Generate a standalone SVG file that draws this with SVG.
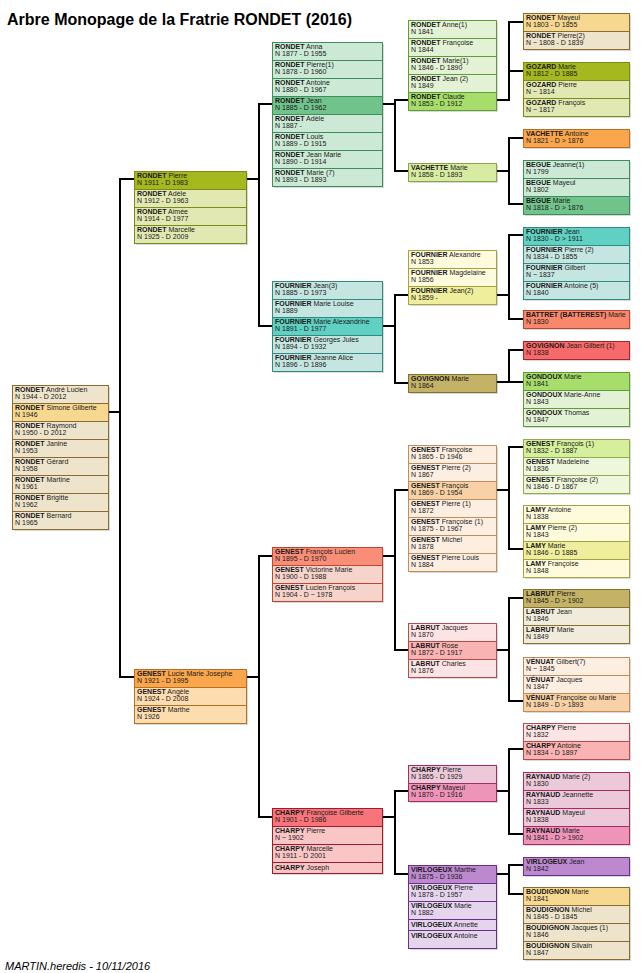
<svg xmlns="http://www.w3.org/2000/svg" width="644" height="973" viewBox="0 0 644 973">
<style>
text{font-family:"Liberation Sans",Arial,sans-serif;font-size:7px;fill:#1a1a1a}
.b{font-weight:bold}
.title{font-size:16px;font-weight:bold;fill:#000}
.foot{font-size:11px;font-style:italic;fill:#000}
.n rect{stroke-width:1}
.n rect.sh{fill:#000;stroke:none;opacity:.15}
#connectors path{fill:none;stroke:#000;stroke-width:2}
.sA rect{fill:#eee4cb;stroke:#8a6c32}.sA rect.h{fill:#f7d890}
.sB rect{fill:#e1e8b2;stroke:#7b8a18}.sB rect.h{fill:#a5b81d}
.sC rect{fill:#cbe9d5;stroke:#3f8d5c}.sC rect.h{fill:#71c38c}
.sD rect{fill:#e3f1d5;stroke:#5e9c36}.sD rect.h{fill:#a7dd6b}
.sE rect{fill:#d8eba2;stroke:#8ca544}
.sF rect{fill:#fddcb0;stroke:#b7701f}.sF rect.h{fill:#f9a64d}
.sG rect{fill:#c5e5e1;stroke:#2f8b82}.sG rect.h{fill:#5fd0c1}
.sH rect{fill:#f9876b;stroke:#b5482e}
.sI rect{fill:#f76a6b;stroke:#a52528}
.sJ rect{fill:#fdfbdc;stroke:#a5a23f}.sJ rect.h{fill:#eeee9c}
.sK rect{fill:#f0ebdb;stroke:#84722c}.sK rect.h{fill:#c4b267}
.sL rect{fill:#fdeee2;stroke:#c58b59}.sL rect.h{fill:#f8d2a6}
.sM rect{fill:#f6d4cb;stroke:#c2452d}.sM rect.h{fill:#f98e78}
.sN rect{fill:#eef7dc;stroke:#8fad4b}.sN rect.h{fill:#d5ef9c}
.sO rect{fill:#fde4e4;stroke:#b84a4b}.sO rect.h{fill:#f9b3b3}
.sP rect{fill:#ecc9d8;stroke:#a52b66}.sP rect.h{fill:#ee94b9}
.sQ rect{fill:#e5d5ec;stroke:#6d2d8d}.sQ rect.h{fill:#bc89ce}
.sR rect{fill:#f9c5c5;stroke:#a3182a}.sR rect.h{fill:#f7757a}
</style>
<rect width="644" height="973" fill="#fff"/>
<text class="title" x="7" y="25">Arbre Monopage de la Fratrie RONDET (2016)</text>

<g id="connectors">
<path d="M109 412H120M134 179H120V677H134"/>
<path d="M247 179H259M272 104H259V326H272"/>
<path d="M247 677H259M272 556H259V817H272"/>
<path d="M383 104H395M408 100H395V171H408"/>
<path d="M383 326H395M408 295H395V383H408"/>
<path d="M383 556H395M408 490H395V650H408"/>
<path d="M383 817H395M408 791H395V874H408"/>
<path d="M497 100H509V22H523M509 71H523"/>
<path d="M497 171H509M523 138H509V204H523"/>
<path d="M497 295H509M523 235H509V319H523"/>
<path d="M497 382H509V350H523M509 382H523"/>
<path d="M497 490H509M523 447H509V549H523"/>
<path d="M497 650H509M523 598H509V701H523"/>
<path d="M497 791H509M523 749H509V834H523"/>
<path d="M497 874H509M523 865H509V894H523"/>
</g>

<g id="g1-rondet" class="n sA">
<rect class="sh" x="14" y="387" width="96" height="144"/>
<rect x="12.5" y="385.5" width="96" height="18"/><text x="15" y="392"><tspan class="b">RONDET</tspan> André Lucien</text><text x="15" y="399">N 1944 - D 2012</text>
<rect class="h" x="12.5" y="403.5" width="96" height="18"/><text x="15" y="410"><tspan class="b">RONDET</tspan> Simone Gilberte</text><text x="15" y="417">N 1946</text>
<rect x="12.5" y="421.5" width="96" height="18"/><text x="15" y="428"><tspan class="b">RONDET</tspan> Raymond</text><text x="15" y="435">N 1950 - D 2012</text>
<rect x="12.5" y="439.5" width="96" height="18"/><text x="15" y="446"><tspan class="b">RONDET</tspan> Janine</text><text x="15" y="453">N 1953</text>
<rect x="12.5" y="457.5" width="96" height="18"/><text x="15" y="464"><tspan class="b">RONDET</tspan> Gérard</text><text x="15" y="471">N 1958</text>
<rect x="12.5" y="475.5" width="96" height="18"/><text x="15" y="482"><tspan class="b">RONDET</tspan> Martine</text><text x="15" y="489">N 1961</text>
<rect x="12.5" y="493.5" width="96" height="18"/><text x="15" y="500"><tspan class="b">RONDET</tspan> Brigitte</text><text x="15" y="507">N 1962</text>
<rect x="12.5" y="511.5" width="96" height="18"/><text x="15" y="518"><tspan class="b">RONDET</tspan> Bernard</text><text x="15" y="525">N 1965</text>
</g>

<g id="g2-rondet" class="n sB">
<rect class="sh" x="136" y="173" width="112" height="72"/>
<rect class="h" x="134.5" y="171.5" width="112" height="18"/><text x="137" y="178"><tspan class="b">RONDET</tspan> Pierre</text><text x="137" y="185">N 1911 - D 1983</text>
<rect x="134.5" y="189.5" width="112" height="18"/><text x="137" y="196"><tspan class="b">RONDET</tspan> Adèle</text><text x="137" y="203">N 1912 - D 1963</text>
<rect x="134.5" y="207.5" width="112" height="18"/><text x="137" y="214"><tspan class="b">RONDET</tspan> Aimée</text><text x="137" y="221">N 1914 - D 1977</text>
<rect x="134.5" y="225.5" width="112" height="18"/><text x="137" y="232"><tspan class="b">RONDET</tspan> Marcelle</text><text x="137" y="239">N 1925 - D 2009</text>
</g>

<g id="g2-genest" class="n sF">
<rect class="sh" x="136" y="671" width="112" height="54"/>
<rect class="h" x="134.5" y="669.5" width="112" height="18"/><text x="137" y="676"><tspan class="b">GENEST</tspan> Lucie Marie Josephe</text><text x="137" y="683">N 1921 - D 1995</text>
<rect x="134.5" y="687.5" width="112" height="18"/><text x="137" y="694"><tspan class="b">GENEST</tspan> Angèle</text><text x="137" y="701">N 1924 - D 2008</text>
<rect x="134.5" y="705.5" width="112" height="18"/><text x="137" y="712"><tspan class="b">GENEST</tspan> Marthe</text><text x="137" y="719">N 1926</text>
</g>

<g id="g3-rondet" class="n sC">
<rect class="sh" x="274" y="44" width="110" height="144"/>
<rect x="272.5" y="42.5" width="110" height="18"/><text x="275" y="49"><tspan class="b">RONDET</tspan> Anna</text><text x="275" y="56">N 1877 - D 1955</text>
<rect x="272.5" y="60.5" width="110" height="18"/><text x="275" y="67"><tspan class="b">RONDET</tspan> Pierre(1)</text><text x="275" y="74">N 1878 - D 1960</text>
<rect x="272.5" y="78.5" width="110" height="18"/><text x="275" y="85"><tspan class="b">RONDET</tspan> Antoine</text><text x="275" y="92">N 1880 - D 1967</text>
<rect class="h" x="272.5" y="96.5" width="110" height="18"/><text x="275" y="103"><tspan class="b">RONDET</tspan> Jean</text><text x="275" y="110">N 1885 - D 1962</text>
<rect x="272.5" y="114.5" width="110" height="18"/><text x="275" y="121"><tspan class="b">RONDET</tspan> Adèle</text><text x="275" y="128">N 1887 -</text>
<rect x="272.5" y="132.5" width="110" height="18"/><text x="275" y="139"><tspan class="b">RONDET</tspan> Louis</text><text x="275" y="146">N 1889 - D 1915</text>
<rect x="272.5" y="150.5" width="110" height="18"/><text x="275" y="157"><tspan class="b">RONDET</tspan> Jean Marie</text><text x="275" y="164">N 1890 - D 1914</text>
<rect x="272.5" y="168.5" width="110" height="18"/><text x="275" y="175"><tspan class="b">RONDET</tspan> Marie (7)</text><text x="275" y="182">N 1893 - D 1893</text>
</g>

<g id="g3-fournier" class="n sG">
<rect class="sh" x="274" y="283" width="110" height="90"/>
<rect x="272.5" y="281.5" width="110" height="18"/><text x="275" y="288"><tspan class="b">FOURNIER</tspan> Jean(3)</text><text x="275" y="295">N 1885 - D 1973</text>
<rect x="272.5" y="299.5" width="110" height="18"/><text x="275" y="306"><tspan class="b">FOURNIER</tspan> Marie Louise</text><text x="275" y="313">N 1889</text>
<rect class="h" x="272.5" y="317.5" width="110" height="18"/><text x="275" y="324"><tspan class="b">FOURNIER</tspan> Marie Alexandrine</text><text x="275" y="331">N 1891 - D 1977</text>
<rect x="272.5" y="335.5" width="110" height="18"/><text x="275" y="342"><tspan class="b">FOURNIER</tspan> Georges Jules</text><text x="275" y="349">N 1894 - D 1932</text>
<rect x="272.5" y="353.5" width="110" height="18"/><text x="275" y="360"><tspan class="b">FOURNIER</tspan> Jeanne Alice</text><text x="275" y="367">N 1896 - D 1896</text>
</g>

<g id="g3-genest" class="n sM">
<rect class="sh" x="274" y="549" width="110" height="54"/>
<rect class="h" x="272.5" y="547.5" width="110" height="18"/><text x="275" y="554"><tspan class="b">GENEST</tspan> François Lucien</text><text x="275" y="561">N 1895 - D 1970</text>
<rect x="272.5" y="565.5" width="110" height="18"/><text x="275" y="572"><tspan class="b">GENEST</tspan> Victorine Marie</text><text x="275" y="579">N 1900 - D 1988</text>
<rect x="272.5" y="583.5" width="110" height="18"/><text x="275" y="590"><tspan class="b">GENEST</tspan> Lucien François</text><text x="275" y="597">N 1904 - D ~ 1978</text>
</g>

<g id="g3-charpy" class="n sR">
<rect class="sh" x="274" y="810" width="110" height="65"/>
<rect class="h" x="272.5" y="808.5" width="110" height="18"/><text x="275" y="815"><tspan class="b">CHARPY</tspan> Françoise Gilberte</text><text x="275" y="822">N 1901 - D 1986</text>
<rect x="272.5" y="826.5" width="110" height="18"/><text x="275" y="833"><tspan class="b">CHARPY</tspan> Pierre</text><text x="275" y="840">N ~ 1902</text>
<rect x="272.5" y="844.5" width="110" height="18"/><text x="275" y="851"><tspan class="b">CHARPY</tspan> Marcelle</text><text x="275" y="858">N 1911 - D 2001</text>
<rect x="272.5" y="862.5" width="110" height="11"/><text x="275" y="869.5"><tspan class="b">CHARPY</tspan> Joseph</text>
</g>

<g id="g4-rondet" class="n sD">
<rect class="sh" x="410" y="22" width="88" height="90"/>
<rect x="408.5" y="20.5" width="88" height="18"/><text x="411" y="27"><tspan class="b">RONDET</tspan> Anne(1)</text><text x="411" y="34">N 1841</text>
<rect x="408.5" y="38.5" width="88" height="18"/><text x="411" y="45"><tspan class="b">RONDET</tspan> Françoise</text><text x="411" y="52">N 1844</text>
<rect x="408.5" y="56.5" width="88" height="18"/><text x="411" y="63"><tspan class="b">RONDET</tspan> Marie(1)</text><text x="411" y="70">N 1846 - D 1890</text>
<rect x="408.5" y="74.5" width="88" height="18"/><text x="411" y="81"><tspan class="b">RONDET</tspan> Jean (2)</text><text x="411" y="88">N 1849</text>
<rect class="h" x="408.5" y="92.5" width="88" height="18"/><text x="411" y="99"><tspan class="b">RONDET</tspan> Claude</text><text x="411" y="106">N 1853 - D 1912</text>
</g>

<g id="g4-vachette" class="n sE">
<rect class="sh" x="410" y="165" width="88" height="18"/>
<rect x="408.5" y="163.5" width="88" height="18"/><text x="411" y="170"><tspan class="b">VACHETTE</tspan> Marie</text><text x="411" y="177">N 1858 - D 1893</text>
</g>

<g id="g4-fournier" class="n sJ">
<rect class="sh" x="410" y="252" width="88" height="54"/>
<rect x="408.5" y="250.5" width="88" height="18"/><text x="411" y="257"><tspan class="b">FOURNIER</tspan> Alexandre</text><text x="411" y="264">N 1853</text>
<rect x="408.5" y="268.5" width="88" height="18"/><text x="411" y="275"><tspan class="b">FOURNIER</tspan> Magdelaine</text><text x="411" y="282">N 1856</text>
<rect class="h" x="408.5" y="286.5" width="88" height="18"/><text x="411" y="293"><tspan class="b">FOURNIER</tspan> Jean(2)</text><text x="411" y="300">N 1859 -</text>
</g>

<g id="g4-govignon" class="n sK">
<rect class="sh" x="410" y="376" width="88" height="18"/>
<rect class="h" x="408.5" y="374.5" width="88" height="18"/><text x="411" y="381"><tspan class="b">GOVIGNON</tspan> Marie</text><text x="411" y="388">N 1864</text>
</g>

<g id="g4-genest" class="n sL">
<rect class="sh" x="410" y="447" width="88" height="126"/>
<rect x="408.5" y="445.5" width="88" height="18"/><text x="411" y="452"><tspan class="b">GENEST</tspan> Françoise</text><text x="411" y="459">N 1865 - D 1946</text>
<rect x="408.5" y="463.5" width="88" height="18"/><text x="411" y="470"><tspan class="b">GENEST</tspan> Pierre (2)</text><text x="411" y="477">N 1867</text>
<rect class="h" x="408.5" y="481.5" width="88" height="18"/><text x="411" y="488"><tspan class="b">GENEST</tspan> François</text><text x="411" y="495">N 1869 - D 1954</text>
<rect x="408.5" y="499.5" width="88" height="18"/><text x="411" y="506"><tspan class="b">GENEST</tspan> Pierre (1)</text><text x="411" y="513">N 1872</text>
<rect x="408.5" y="517.5" width="88" height="18"/><text x="411" y="524"><tspan class="b">GENEST</tspan> Françoise (1)</text><text x="411" y="531">N 1875 - D 1967</text>
<rect x="408.5" y="535.5" width="88" height="18"/><text x="411" y="542"><tspan class="b">GENEST</tspan> Michel</text><text x="411" y="549">N 1878</text>
<rect x="408.5" y="553.5" width="88" height="18"/><text x="411" y="560"><tspan class="b">GENEST</tspan> Pierre Louis</text><text x="411" y="567">N 1884</text>
</g>

<g id="g4-labrut" class="n sO">
<rect class="sh" x="410" y="625" width="88" height="54"/>
<rect x="408.5" y="623.5" width="88" height="18"/><text x="411" y="630"><tspan class="b">LABRUT</tspan> Jacques</text><text x="411" y="637">N 1870</text>
<rect class="h" x="408.5" y="641.5" width="88" height="18"/><text x="411" y="648"><tspan class="b">LABRUT</tspan> Rose</text><text x="411" y="655">N 1872 - D 1917</text>
<rect x="408.5" y="659.5" width="88" height="18"/><text x="411" y="666"><tspan class="b">LABRUT</tspan> Charles</text><text x="411" y="673">N 1876</text>
</g>

<g id="g4-charpy" class="n sP">
<rect class="sh" x="410" y="767" width="88" height="36"/>
<rect x="408.5" y="765.5" width="88" height="18"/><text x="411" y="772"><tspan class="b">CHARPY</tspan> Pierre</text><text x="411" y="779">N 1865 - D 1929</text>
<rect class="h" x="408.5" y="783.5" width="88" height="18"/><text x="411" y="790"><tspan class="b">CHARPY</tspan> Mayeul</text><text x="411" y="797">N 1870 - D 1916</text>
</g>

<g id="g4-virlogeux" class="n sQ">
<rect class="sh" x="410" y="867" width="88" height="83"/>
<rect class="h" x="408.5" y="865.5" width="88" height="18"/><text x="411" y="872"><tspan class="b">VIRLOGEUX</tspan> Marthe</text><text x="411" y="879">N 1875 - D 1936</text>
<rect x="408.5" y="883.5" width="88" height="18"/><text x="411" y="890"><tspan class="b">VIRLOGEUX</tspan> Pierre</text><text x="411" y="897">N 1878 - D 1957</text>
<rect x="408.5" y="901.5" width="88" height="18"/><text x="411" y="908"><tspan class="b">VIRLOGEUX</tspan> Marie</text><text x="411" y="915">N 1882</text>
<rect x="408.5" y="919.5" width="88" height="11"/><text x="411" y="926.5"><tspan class="b">VIRLOGEUX</tspan> Annette</text>
<rect x="408.5" y="930.5" width="88" height="18"/><text x="411" y="937.5"><tspan class="b">VIRLOGEUX</tspan> Antoine</text>
</g>

<g id="g5-rondet" class="n sA">
<rect class="sh" x="525" y="15" width="106" height="36"/>
<rect class="h" x="523.5" y="13.5" width="106" height="18"/><text x="526" y="20"><tspan class="b">RONDET</tspan> Mayeul</text><text x="526" y="27">N 1803 - D 1855</text>
<rect x="523.5" y="31.5" width="106" height="18"/><text x="526" y="38"><tspan class="b">RONDET</tspan> Pierre(2)</text><text x="526" y="45">N ~ 1808 - D 1839</text>
</g>

<g id="g5-gozard" class="n sB">
<rect class="sh" x="525" y="64" width="106" height="54"/>
<rect class="h" x="523.5" y="62.5" width="106" height="18"/><text x="526" y="69"><tspan class="b">GOZARD</tspan> Marie</text><text x="526" y="76">N 1812 - D 1885</text>
<rect x="523.5" y="80.5" width="106" height="18"/><text x="526" y="87"><tspan class="b">GOZARD</tspan> Pierre</text><text x="526" y="94">N ~ 1814</text>
<rect x="523.5" y="98.5" width="106" height="18"/><text x="526" y="105"><tspan class="b">GOZARD</tspan> François</text><text x="526" y="112">N ~ 1817</text>
</g>

<g id="g5-vachette" class="n sF">
<rect class="sh" x="525" y="131" width="106" height="18"/>
<rect class="h" x="523.5" y="129.5" width="106" height="18"/><text x="526" y="136"><tspan class="b">VACHETTE</tspan> Antoine</text><text x="526" y="143">N 1821 - D &gt; 1876</text>
</g>

<g id="g5-begue" class="n sC">
<rect class="sh" x="525" y="162" width="106" height="54"/>
<rect x="523.5" y="160.5" width="106" height="18"/><text x="526" y="167"><tspan class="b">BEGUE</tspan> Jeanne(1)</text><text x="526" y="174">N 1799</text>
<rect x="523.5" y="178.5" width="106" height="18"/><text x="526" y="185"><tspan class="b">BEGUE</tspan> Mayeul</text><text x="526" y="192">N 1802</text>
<rect class="h" x="523.5" y="196.5" width="106" height="18"/><text x="526" y="203"><tspan class="b">BEGUE</tspan> Marie</text><text x="526" y="210">N 1818 - D &gt; 1876</text>
</g>

<g id="g5-fournier" class="n sG">
<rect class="sh" x="525" y="229" width="106" height="72"/>
<rect class="h" x="523.5" y="227.5" width="106" height="18"/><text x="526" y="234"><tspan class="b">FOURNIER</tspan> Jean</text><text x="526" y="241">N 1830 - D &gt; 1911</text>
<rect x="523.5" y="245.5" width="106" height="18"/><text x="526" y="252"><tspan class="b">FOURNIER</tspan> Pierre (2)</text><text x="526" y="259">N 1834 - D 1855</text>
<rect x="523.5" y="263.5" width="106" height="18"/><text x="526" y="270"><tspan class="b">FOURNIER</tspan> Gilbert</text><text x="526" y="277">N ~ 1837</text>
<rect x="523.5" y="281.5" width="106" height="18"/><text x="526" y="288"><tspan class="b">FOURNIER</tspan> Antoine (5)</text><text x="526" y="295">N 1840</text>
</g>

<g id="g5-battret" class="n sH">
<rect class="sh" x="525" y="312" width="106" height="18"/>
<rect x="523.5" y="310.5" width="106" height="18"/><text x="526" y="317"><tspan class="b">BATTRET (BATTEREST)</tspan> Marie</text><text x="526" y="324">N 1830</text>
</g>

<g id="g5-govignon" class="n sI">
<rect class="sh" x="525" y="343" width="106" height="18"/>
<rect x="523.5" y="341.5" width="106" height="18"/><text x="526" y="348"><tspan class="b">GOVIGNON</tspan> Jean Gilbert (1)</text><text x="526" y="355">N 1838</text>
</g>

<g id="g5-gondoux" class="n sD">
<rect class="sh" x="525" y="374" width="106" height="54"/>
<rect class="h" x="523.5" y="372.5" width="106" height="18"/><text x="526" y="379"><tspan class="b">GONDOUX</tspan> Marie</text><text x="526" y="386">N 1841</text>
<rect x="523.5" y="390.5" width="106" height="18"/><text x="526" y="397"><tspan class="b">GONDOUX</tspan> Marie-Anne</text><text x="526" y="404">N 1843</text>
<rect x="523.5" y="408.5" width="106" height="18"/><text x="526" y="415"><tspan class="b">GONDOUX</tspan> Thomas</text><text x="526" y="422">N 1847</text>
</g>

<g id="g5-genest" class="n sN">
<rect class="sh" x="525" y="441" width="106" height="54"/>
<rect class="h" x="523.5" y="439.5" width="106" height="18"/><text x="526" y="446"><tspan class="b">GENEST</tspan> François (1)</text><text x="526" y="453">N 1832 - D 1887</text>
<rect x="523.5" y="457.5" width="106" height="18"/><text x="526" y="464"><tspan class="b">GENEST</tspan> Madeleine</text><text x="526" y="471">N 1836</text>
<rect x="523.5" y="475.5" width="106" height="18"/><text x="526" y="482"><tspan class="b">GENEST</tspan> Françoise (2)</text><text x="526" y="489">N 1846 - D 1867</text>
</g>

<g id="g5-lamy" class="n sJ">
<rect class="sh" x="525" y="507" width="106" height="72"/>
<rect x="523.5" y="505.5" width="106" height="18"/><text x="526" y="512"><tspan class="b">LAMY</tspan> Antoine</text><text x="526" y="519">N 1838</text>
<rect x="523.5" y="523.5" width="106" height="18"/><text x="526" y="530"><tspan class="b">LAMY</tspan> Pierre (2)</text><text x="526" y="537">N 1843</text>
<rect class="h" x="523.5" y="541.5" width="106" height="18"/><text x="526" y="548"><tspan class="b">LAMY</tspan> Marie</text><text x="526" y="555">N 1846 - D 1885</text>
<rect x="523.5" y="559.5" width="106" height="18"/><text x="526" y="566"><tspan class="b">LAMY</tspan> Françoise</text><text x="526" y="573">N 1848</text>
</g>

<g id="g5-labrut" class="n sK">
<rect class="sh" x="525" y="591" width="106" height="54"/>
<rect class="h" x="523.5" y="589.5" width="106" height="18"/><text x="526" y="596"><tspan class="b">LABRUT</tspan> Pierre</text><text x="526" y="603">N 1845 - D &gt; 1902</text>
<rect x="523.5" y="607.5" width="106" height="18"/><text x="526" y="614"><tspan class="b">LABRUT</tspan> Jean</text><text x="526" y="621">N 1846</text>
<rect x="523.5" y="625.5" width="106" height="18"/><text x="526" y="632"><tspan class="b">LABRUT</tspan> Marie</text><text x="526" y="639">N 1849</text>
</g>

<g id="g5-venuat" class="n sL">
<rect class="sh" x="525" y="659" width="106" height="54"/>
<rect x="523.5" y="657.5" width="106" height="18"/><text x="526" y="664"><tspan class="b">VÉNUAT</tspan> Gilbert(7)</text><text x="526" y="671">N ~ 1845</text>
<rect x="523.5" y="675.5" width="106" height="18"/><text x="526" y="682"><tspan class="b">VÉNUAT</tspan> Jacques</text><text x="526" y="689">N 1847</text>
<rect class="h" x="523.5" y="693.5" width="106" height="18"/><text x="526" y="700"><tspan class="b">VÉNUAT</tspan> Françoise ou Marie</text><text x="526" y="707">N 1849 - D &gt; 1893</text>
</g>

<g id="g5-charpy" class="n sO">
<rect class="sh" x="525" y="725" width="106" height="36"/>
<rect x="523.5" y="723.5" width="106" height="18"/><text x="526" y="730"><tspan class="b">CHARPY</tspan> Pierre</text><text x="526" y="737">N 1832</text>
<rect class="h" x="523.5" y="741.5" width="106" height="18"/><text x="526" y="748"><tspan class="b">CHARPY</tspan> Antoine</text><text x="526" y="755">N 1834 - D 1897</text>
</g>

<g id="g5-raynaud" class="n sP">
<rect class="sh" x="525" y="774" width="106" height="72"/>
<rect x="523.5" y="772.5" width="106" height="18"/><text x="526" y="779"><tspan class="b">RAYNAUD</tspan> Marie (2)</text><text x="526" y="786">N 1830</text>
<rect x="523.5" y="790.5" width="106" height="18"/><text x="526" y="797"><tspan class="b">RAYNAUD</tspan> Jeannette</text><text x="526" y="804">N 1833</text>
<rect x="523.5" y="808.5" width="106" height="18"/><text x="526" y="815"><tspan class="b">RAYNAUD</tspan> Mayeul</text><text x="526" y="822">N 1838</text>
<rect class="h" x="523.5" y="826.5" width="106" height="18"/><text x="526" y="833"><tspan class="b">RAYNAUD</tspan> Marie</text><text x="526" y="840">N 1841 - D &gt; 1902</text>
</g>

<g id="g5-virlogeux" class="n sQ">
<rect class="sh" x="525" y="859" width="106" height="18"/>
<rect class="h" x="523.5" y="857.5" width="106" height="18"/><text x="526" y="864"><tspan class="b">VIRLOGEUX</tspan> Jean</text><text x="526" y="871">N 1842</text>
</g>

<g id="g5-boudignon" class="n sA">
<rect class="sh" x="525" y="889" width="106" height="72"/>
<rect class="h" x="523.5" y="887.5" width="106" height="18"/><text x="526" y="894"><tspan class="b">BOUDIGNON</tspan> Marie</text><text x="526" y="901">N 1841</text>
<rect x="523.5" y="905.5" width="106" height="18"/><text x="526" y="912"><tspan class="b">BOUDIGNON</tspan> Michel</text><text x="526" y="919">N 1845 - D 1845</text>
<rect x="523.5" y="923.5" width="106" height="18"/><text x="526" y="930"><tspan class="b">BOUDIGNON</tspan> Jacques (1)</text><text x="526" y="937">N 1846</text>
<rect x="523.5" y="941.5" width="106" height="18"/><text x="526" y="948"><tspan class="b">BOUDIGNON</tspan> Silvain</text><text x="526" y="955">N 1847</text>
</g>

<text class="foot" x="5" y="970">MARTIN.heredis - 10/11/2016</text>
</svg>
